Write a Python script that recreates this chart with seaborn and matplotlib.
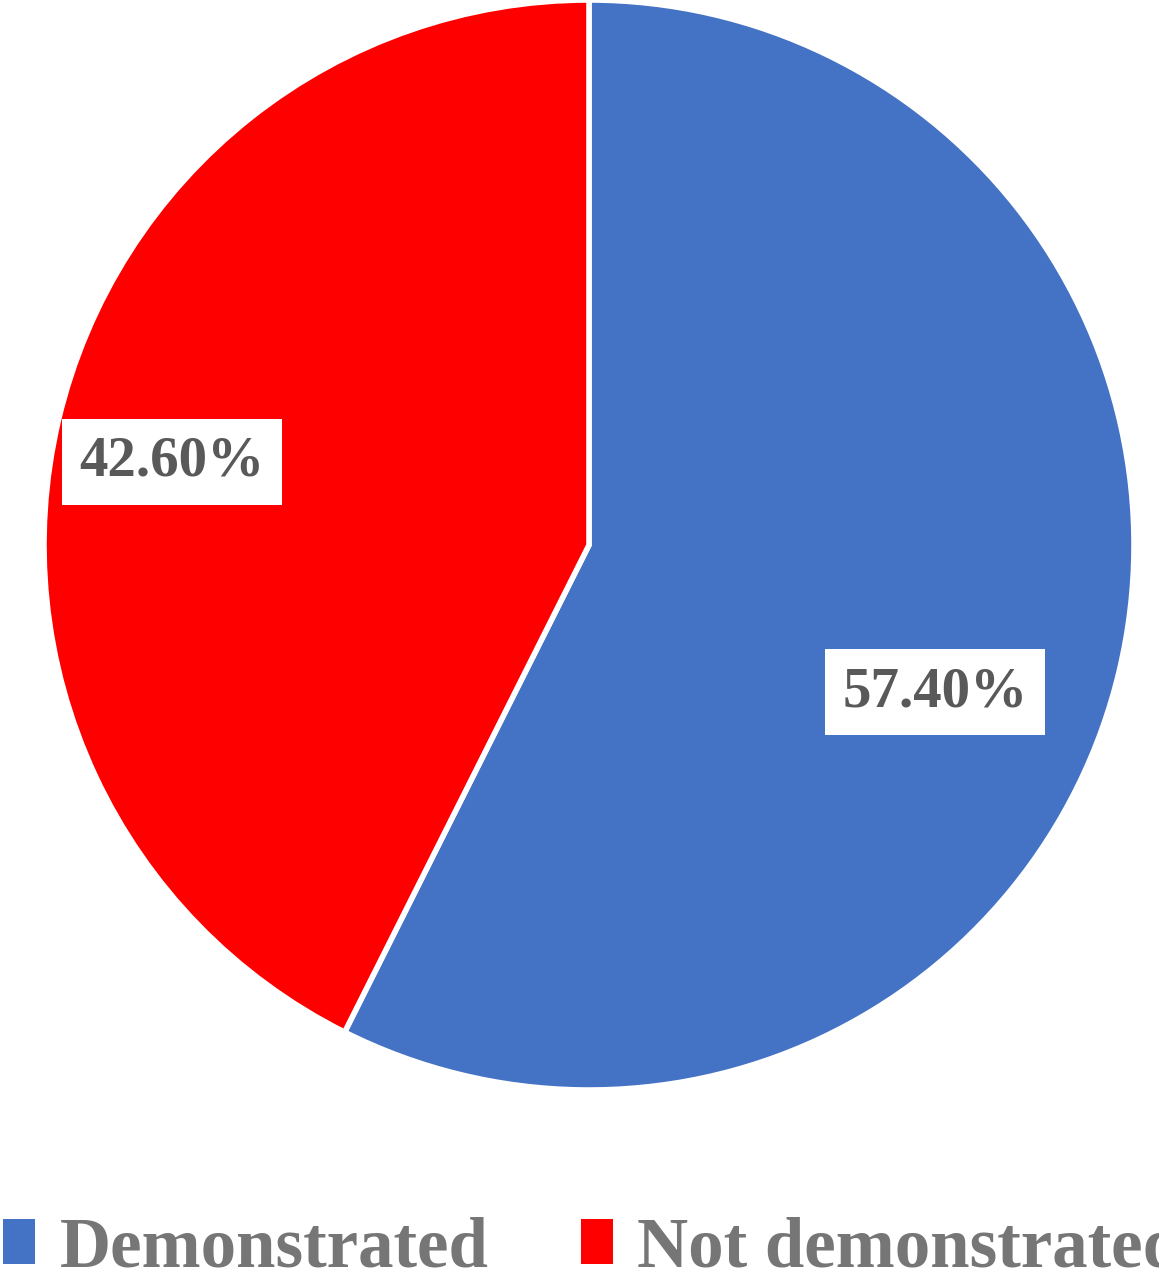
import matplotlib
matplotlib.use("Agg")
import matplotlib.pyplot as plt
import seaborn as sns
import numpy as np
from matplotlib.patches import Patch

categories = ["Demonstrated", "Not demonstrated"]
values = [57.40, 42.60]
colors = ["#4472C4", "#FF0000"]

sns.set_theme(style="white")
plt.rcParams['font.family'] = ['Liberation Serif', 'DejaVu Serif']

fig = plt.figure(figsize=(11.59, 12.8), dpi=100)
ax = fig.add_axes([44/1159, 190/1280, 1090/1159, 1090/1280])

wedges, texts, autotexts = ax.pie(
    values, colors=colors, startangle=90, counterclock=False,
    autopct=lambda p: f"{p:.2f}%", pctdistance=0.72,
    wedgeprops=dict(edgecolor="white", linewidth=4),
    textprops=dict(fontsize=41, fontweight="bold", color="#595959"),
)
# nudge label positions to match the reference
label_pos = [(0.635, -0.27), (-0.765, 0.153)]
for t, pos in zip(autotexts, label_pos):
    t.set_position(pos)
    t.set_bbox(dict(facecolor="white", edgecolor="none", boxstyle="square,pad=0.3"))
ax.set_xlim(-1, 1)
ax.set_ylim(-1, 1)
ax.set_aspect("equal")

handles = [Patch(facecolor=c, edgecolor="none") for c in colors]
leg = fig.legend(handles, categories, loc="lower left", bbox_to_anchor=(-0.034, -0.034),
                 ncol=2, frameon=False, handlelength=0.45, handleheight=0.6,
                 handletextpad=0.35, columnspacing=1.3, borderpad=0.1,
                 prop=dict(family="Liberation Serif", weight="bold", size=51))
for txt in leg.get_texts():
    txt.set_color("#767676")

fig.savefig("out.png", dpi=100)
